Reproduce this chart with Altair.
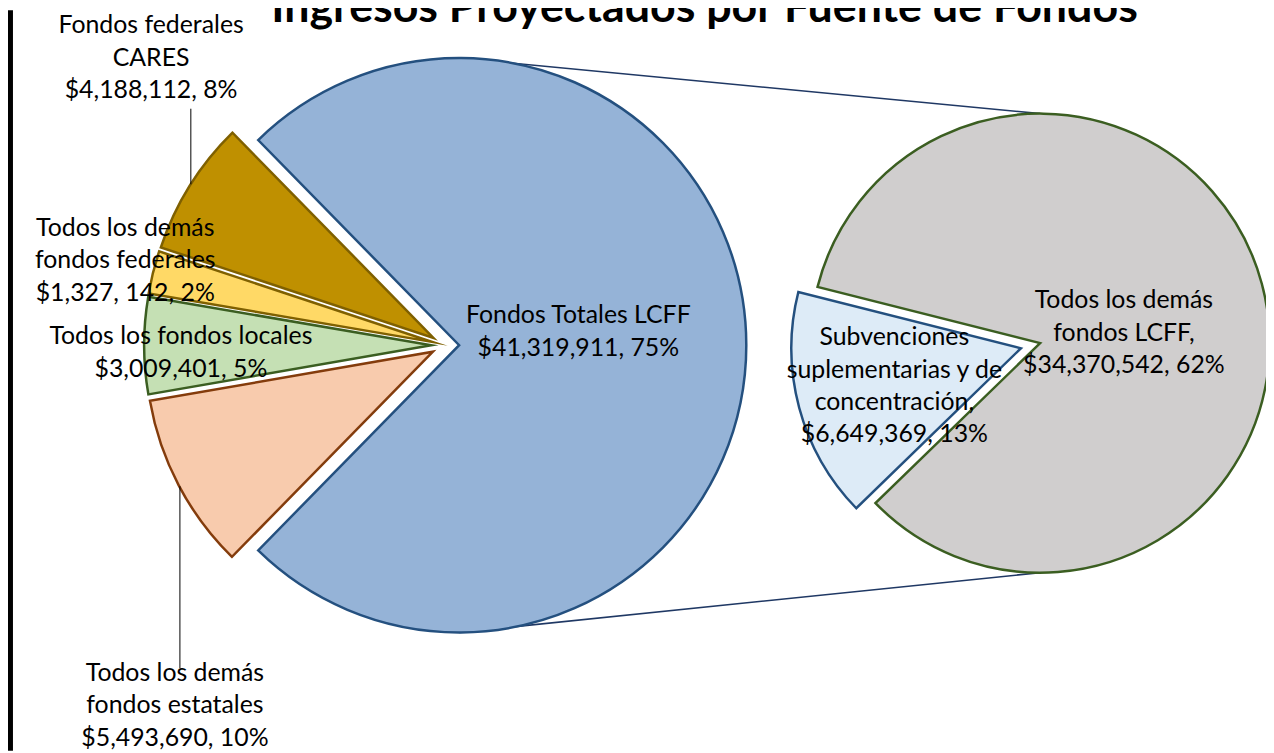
import math
import altair as alt
import pandas as pd

# ---------------- data ----------------
main_categories = [
    "Fondos Totales LCFF",
    "Todos los demás fondos estatales",
    "Todos los fondos locales",
    "Todos los demás fondos federales",
    "Fondos federales CARES",
]
main_values = [41319911, 5493690, 3009401, 1327142, 4188112]

detail_categories = [
    "Subvenciones suplementarias y de concentración",
    "Todos los demás fondos LCFF",
]
detail_values = [6649369, 34370542]

title_text = "Ingresos Proyectados por Fuente de Fondos"

label_texts = [
    ["Fondos federales", "CARES", "$4,188,112, 8%"],
    ["Todos los demás", "fondos federales", "$1,327, 142, 2%"],
    ["Todos los fondos locales", "$3,009,401, 5%"],
    ["Todos los demás", "fondos estatales", "$5,493,690, 10%"],
    ["Fondos Totales LCFF", "$41,319,911, 75%"],
    ["Subvenciones", "suplementarias y de", "concentración,", "$6,649,369, 13%"],
    ["Todos los demás", "fondos LCFF,", "$34,370,542, 62%"],
]

# ---------------- layout / style ----------------
W, H = 1266, 745
M = 8  # page margin (screen -> view offset)

main_fills = ["#95B3D7", "#F8CBAD", "#C5E0B4", "#FFD966", "#BF9000"]
main_strokes = ["#24507F", "#843C0C", "#3B5E21", "#7F6000", "#7F6000"]
detail_fills = ["#DDEBF7", "#D0CECE"]
detail_strokes = ["#24507F", "#3B5E21"]

# label anchors in screen px: (center x, first baseline y), line spacing
label_pos = [(152, 31), (126, 235), (182, 344), (176, 683), (582, 323), (900, 345), (1131, 308)]
line_gap = 32.5

leaders = [(192, 107, 183), (181, 487, 670)]  # x, y top, y bottom (screen)


def pie_rows(cats, vals, fills, strokes, cx, cy, r, explode, first_mid):
    total = sum(vals)
    rows = []
    start = first_mid - vals[0] / total * math.pi
    for c, v, f, s in zip(cats, vals, fills, strokes):
        span = v / total * 2 * math.pi
        t0, t1 = start, start + span
        mid = (t0 + t1) / 2
        rows.append(dict(
            cat=c, value=v, t0=t0, t1=t1,
            x=cx - M + explode * math.sin(mid),
            y=cy - M - explode * math.cos(mid),
            r=r, fill=f, stroke=s,
        ))
        start = t1
    return rows


left = pie_rows(main_categories, main_values, main_fills, main_strokes,
                448, 345, 289, 14, math.pi / 2)
right = pie_rows(detail_categories, detail_values, detail_fills, detail_strokes,
                 1037, 345.5, 231, 10, math.radians(255))
slices = pd.DataFrame(left + right)

# connector lines: top/bottom of the LCFF slice circle to top/bottom of detail pie
blue = left[0]
gray = right[1]
connectors = pd.DataFrame([
    dict(x=blue["x"], y=blue["y"] - blue["r"], x2=gray["x"], y2=gray["y"] - gray["r"]),
    dict(x=blue["x"], y=blue["y"] + blue["r"], x2=gray["x"], y2=gray["y"] + gray["r"]),
])

leader_df = pd.DataFrame([dict(x=x - M, y=y1 - M, y2=y2 - M) for x, y1, y2 in leaders])

text_rows = []
for lines, (lx, ly) in zip(label_texts, label_pos):
    for i, t in enumerate(lines):
        text_rows.append(dict(x=lx - M, y=ly - M + i * line_gap, text=t))
texts = pd.DataFrame(text_rows)

title_df = pd.DataFrame([dict(x=709 - M, y=20 - M, text=title_text)])

X = lambda f: alt.X(f, scale=None, axis=None)
Y = lambda f: alt.Y(f, scale=None, axis=None)

conn_layer = alt.Chart(connectors).mark_rule(color="#1F3864", strokeWidth=1.6).encode(
    x=X("x:Q"), y=Y("y:Q"), x2="x2:Q", y2="y2:Q"
)

arc_layer = alt.Chart(slices).mark_arc(strokeWidth=2.5, strokeJoin="miter", strokeMiterLimit=20).encode(
    x=X("x:Q"),
    y=Y("y:Q"),
    theta=alt.Theta("t0:Q", scale=None, stack=None),
    theta2="t1:Q",
    radius=alt.Radius("r:Q", scale=None),
    fill=alt.Fill("fill:N", scale=None),
    stroke=alt.Stroke("stroke:N", scale=None),
    tooltip=["cat:N", alt.Tooltip("value:Q", format="$,")],
)

leader_layer = alt.Chart(leader_df).mark_rule(color="#000000", strokeWidth=1).encode(
    x=X("x:Q"), y=Y("y:Q"), y2="y2:Q"
)

text_layer = alt.Chart(texts).mark_text(
    font="Lato", fontSize=25, align="center", baseline="alphabetic", color="#000000"
).encode(x=X("x:Q"), y=Y("y:Q"), text="text:N")

title_layer = alt.Chart(title_df).mark_text(
    font="Lato", fontSize=45, fontWeight="bold", align="center", baseline="alphabetic", color="#000000"
).encode(x=X("x:Q"), y=Y("y:Q"), text="text:N")

border_layer = alt.Chart(title_df).mark_rule(color="#000000", strokeWidth=5).encode(
    x=alt.value(2.5), y=alt.value(0), y2=alt.value(H)
)

chart = alt.layer(
    conn_layer, arc_layer, leader_layer, text_layer, title_layer, border_layer
).properties(
    width=W, height=H, padding=0,
    autosize=alt.AutoSizeParams(type="none"),
    background="#FFFFFF",
).configure_view(stroke=None)

chart.save("out.html", embed_options={"renderer": "svg", "actions": False})
